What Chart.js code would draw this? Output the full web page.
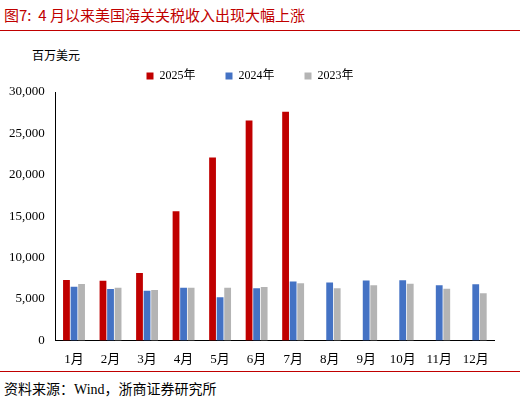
<!DOCTYPE html>
<html><head><meta charset="utf-8">
<script src="https://cdn.jsdelivr.net/npm/chart.js@4"></script>
<style>
body{margin:0;width:520px;height:402px;background:#fff;font-family:"Liberation Serif","Noto Sans CJK SC",serif;position:relative;overflow:hidden}
#title{position:absolute;left:4px;top:4px;color:#c00000;font-size:15px;font-family:"Noto Sans CJK SC",sans-serif}
#line{position:absolute;left:0;top:30px;width:520px;height:1px;background:#c00000}
#line2{position:absolute;left:0;top:371px;width:520px;height:1px;background:#c00000}
#src{position:absolute;left:4px;top:378px;font-size:14px;font-family:"Liberation Serif","Noto Sans CJK SC",serif}
#unit{position:absolute;left:32px;top:46px;font-size:12px;font-family:"Noto Sans CJK SC",sans-serif}
#wrap{position:absolute;left:0;top:40px;width:520px;height:330px}
</style></head><body>
<div id="title">图7:&nbsp;&nbsp;4 月以来美国海关关税收入出现大幅上涨</div>
<div id="line"></div>
<div id="unit">百万美元</div>
<div id="wrap"><canvas id="c" width="520" height="330"></canvas></div>
<div id="line2"></div>
<div id="src">资料来源：Wind，浙商证券研究所</div>
<script>
const categories=["1月","2月","3月","4月","5月","6月","7月","8月","9月","10月","11月","12月"];
const s2025=[7300,7200,8150,15600,22100,26550,27600,null,null,null,null,null];
const s2024=[6480,6200,6000,6350,5200,6300,7100,7000,7240,7270,6660,6780];
const s2023=[6800,6350,6100,6350,6350,6450,6900,6300,6650,6850,6250,5700];
new Chart(document.getElementById('c'),{type:'bar',
data:{labels:categories,datasets:[
{label:'2025年',data:s2025,backgroundColor:'#c00000'},
{label:'2024年',data:s2024,backgroundColor:'#4472c4'},
{label:'2023年',data:s2023,backgroundColor:'#b4b4b4'}]},
options:{responsive:false,animation:false,devicePixelRatio:1,
layout:{padding:{left:6,right:26,top:0,bottom:0}},
datasets:{bar:{categoryPercentage:0.62,barPercentage:0.9}},
plugins:{legend:{position:'top',labels:{boxWidth:7,boxHeight:7,padding:30,color:'#000',font:{family:'"Liberation Serif","Noto Sans CJK SC"',size:12}}},tooltip:{enabled:false}},
scales:{x:{grid:{display:false,drawTicks:true},border:{color:'#000'},ticks:{color:'#000',font:{family:'"Liberation Serif","Noto Sans CJK SC"',size:13}}},
y:{min:0,max:30000,ticks:{stepSize:5000,color:'#000',font:{family:'"Liberation Serif"',size:13},callback:v=>v.toLocaleString('en-US')},grid:{display:false},border:{color:'#000'}}}}});
</script>
</body></html>
